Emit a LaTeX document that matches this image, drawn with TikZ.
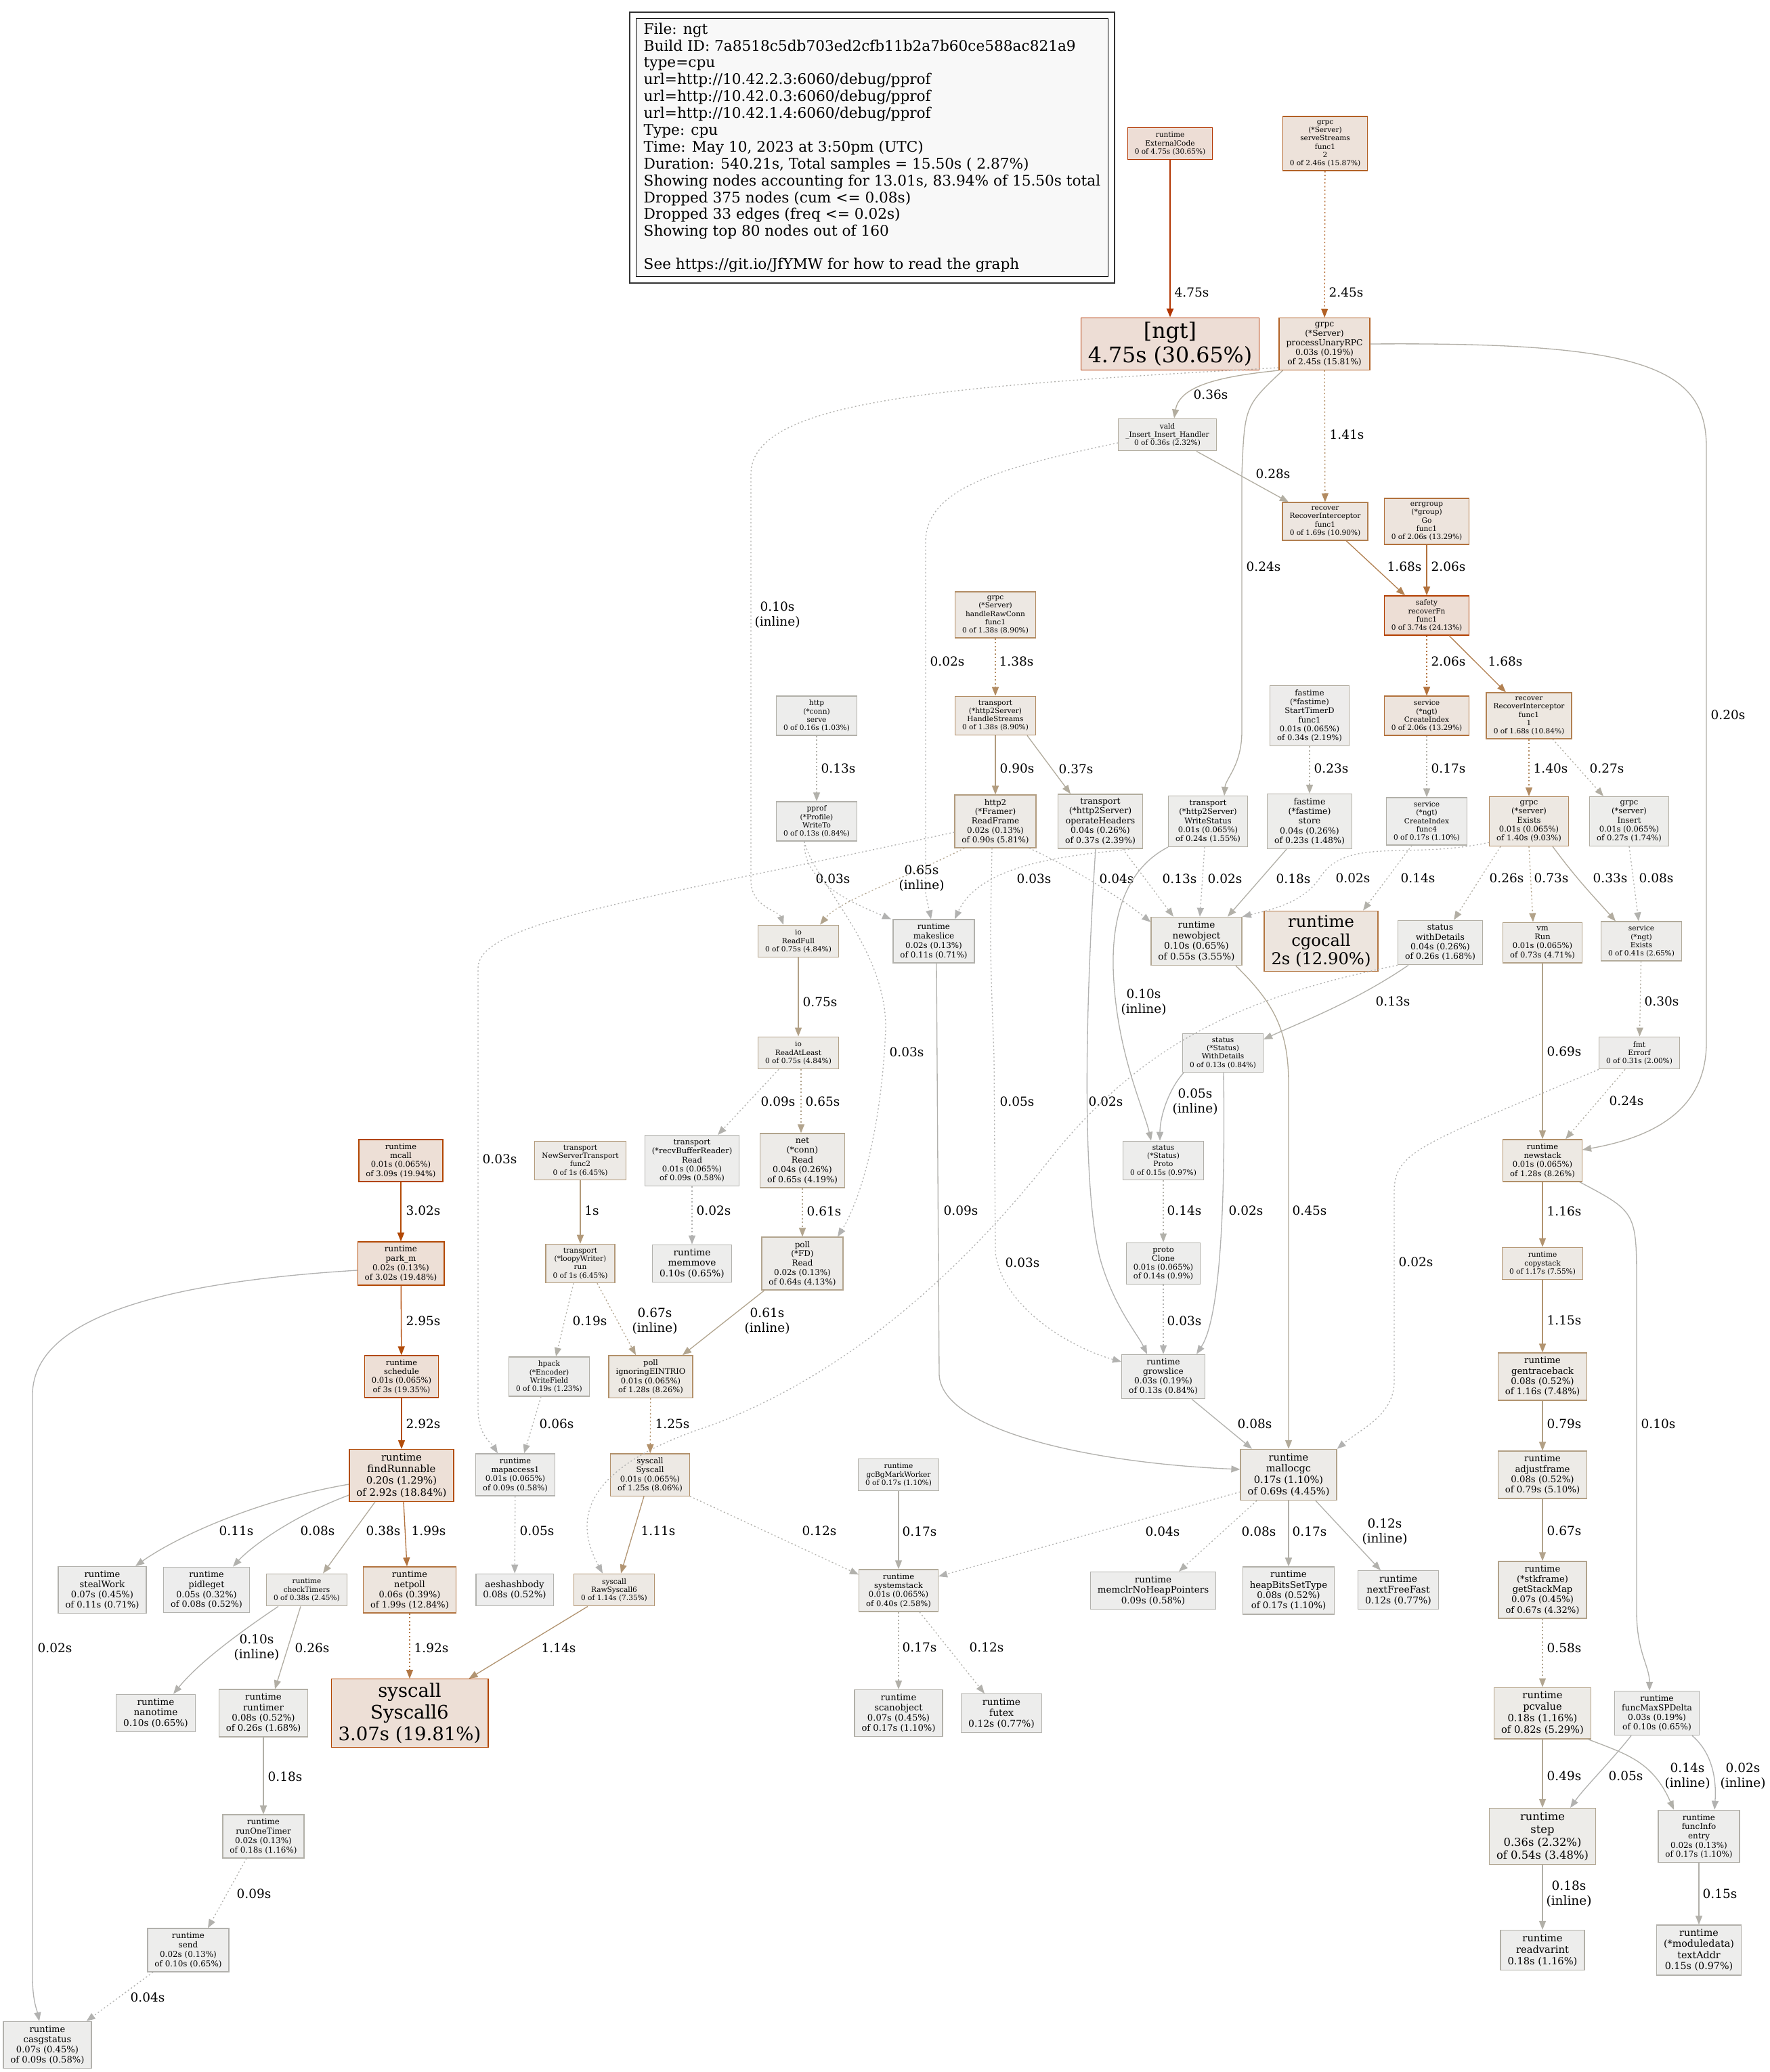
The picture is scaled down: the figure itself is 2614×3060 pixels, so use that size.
\documentclass[tikz,border=0pt]{standalone}
\usepackage{fontspec}
\setmainfont{DejaVu Serif}
\usepackage{tikz}
\usetikzlibrary{arrows.meta,fit}
\definecolor{legendfill}{HTML}{F8F8F8}

% pprof palette: share of the total -> line / fill colour
\newcommand\gvcolor[4]{%
  \pgfmathsetmacro\gvs{#2<0.2 ? #3*#2/0.2 : #3}%
  \pgfmathsetmacro\gvc{(#2)^0.3}%
  \pgfmathsetmacro\gvg{#4*(1-\gvs*\gvc)}%
  \pgfmathsetmacro\gvb{#4*(1-\gvs)}%
  \definecolor{#1}{rgb}{#4,\gvg,\gvb}}
\newcommand\gvfont[1]{%
  \pgfmathsetmacro\gvsz{1.32*#1}%
  \pgfmathsetmacro\gvbs{1.15*\gvsz}%
  \fontsize{\gvsz pt}{\gvbs pt}\selectfont}

\tikzset{
  heat/.code={\pgfmathsetmacro\gvf{#1/15.5}%
    \gvcolor{boxline}{\gvf}{1}{0.7}\gvcolor{boxfill}{\gvf}{0.1}{0.93}%
    \pgfkeysalso{draw=boxline,fill=boxfill}},
  fn/.style 2 args={rectangle, heat=#1, font=\gvfont{#2}, align=center,
    line width=1.32pt, inner xsep=10.5pt, inner ysep=6pt,
    minimum width=71pt, minimum height=47.5pt},
  ecol/.code={\pgfmathsetmacro\gvf{#1/15.5}\gvcolor{edgeline}{\gvf}{1}{0.7}%
    \pgfkeysalso{draw=edgeline}},
  e/.style={ecol=#1, line width=1.32pt, -{Triangle[length=13pt,width=10pt]}},
  ind/.style={dash pattern=on 2pt off 3.5pt},
  lbl/.style={font=\gvfont{14}, align=center, inner sep=0pt},
}

\begin{document}
\begin{tikzpicture}[x=1pt,y=-1pt]
  \fill[white] (0,0) rectangle (2614,3060);

  % legend
  \node[draw=black, fill=legendfill, line width=1.32pt, font=\gvfont{16.4}, align=left,
    inner xsep=11pt, inner ysep=6pt, anchor=north west] (legend) at (939,27)
    {File: ngt\\Build ID: 7a8518c5db703ed2cfb11b2a7b60ce588ac821a9\\type=cpu\\
     url=http://10.42.2.3:6060/debug/pprof\\url=http://10.42.0.3:6060/debug/pprof\\
     url=http://10.42.1.4:6060/debug/pprof\\Type: cpu\\Time: May 10, 2023 at 3:50pm (UTC)\\
     Duration: 540.21s, Total samples = 15.50s ( 2.87\%)\\
     Showing nodes accounting for 13.01s, 83.94\% of 15.50s total\\
     Dropped 375 nodes (cum <= 0.08s)\\Dropped 33 edges (freq <= 0.02s)\\
     Showing top 80 nodes out of 160\\[24pt]See https://git.io/JfYMW for how to read the graph};
  \node[draw=black!80, line width=2pt, fit=(legend), inner sep=9pt] (legendbox) {};

  % nodes
  \node[fn={4.75}{8}] (ext) at (1728,212) {runtime\\ExternalCode\\0 of 4.75s (30.65\%)};
  \node[fn={2.46}{8}] (serve) at (1957,212) {grpc\\(*Server)\\serveStreams\\func1\\2\\0 of 2.46s (15.87\%)};
  \node[fn={4.75}{24}] (ngt) at (1728,508) {[ngt]\\4.75s (30.65\%)};
  \node[fn={2.45}{9.27}] (pur) at (1956,508) {grpc\\(*Server)\\processUnaryRPC\\0.03s (0.19\%)\\of 2.45s (15.81\%)};
  \node[fn={0.36}{8}] (vald) at (1724,642) {vald\\\_Insert\_Insert\_Handler\\0 of 0.36s (2.32\%)};
  \node[fn={1.69}{8}] (rec1) at (1957,770) {recover\\RecoverInterceptor\\func1\\0 of 1.69s (10.90\%)};
  \node[fn={2.06}{8}] (errg) at (2107,770) {errgroup\\(*group)\\Go\\func1\\0 of 2.06s (13.29\%)};
  \node[fn={3.74}{8}] (safety) at (2107,909) {safety\\recoverFn\\func1\\0 of 3.74s (24.13\%)};
  \node[fn={1.38}{8}] (hrc) at (1470,908) {grpc\\(*Server)\\handleRawConn\\func1\\0 of 1.38s (8.90\%)};
  \node[fn={0.16}{8}] (hserve) at (1206,1057) {http\\(*conn)\\serve\\0 of 0.16s (1.03\%)};
  \node[fn={1.38}{8}] (hstreams) at (1470,1057) {transport\\(*http2Server)\\HandleStreams\\0 of 1.38s (8.90\%)};
  \node[fn={0.34}{8.73}] (stimer) at (1934,1057) {fastime\\(*fastime)\\StartTimerD\\func1\\0.01s (0.065\%)\\of 0.34s (2.19\%)};
  \node[fn={2.06}{8}] (cidx) at (2107,1057) {service\\(*ngt)\\CreateIndex\\0 of 2.06s (13.29\%)};
  \node[fn={1.68}{8}] (rec11) at (2258,1057) {recover\\RecoverInterceptor\\func1\\1\\0 of 1.68s (10.84\%)};
  \node[fn={0.13}{8}] (pprof) at (1206,1213) {pprof\\(*Profile)\\WriteTo\\0 of 0.13s (0.84\%)};
  \node[fn={0.90}{9.04}] (rframe) at (1470,1213) {http2\\(*Framer)\\ReadFrame\\0.02s (0.13\%)\\of 0.90s (5.81\%)};
  \node[fn={0.37}{9.47}] (ophdr) at (1625,1213) {transport\\(*http2Server)\\operateHeaders\\0.04s (0.26\%)\\of 0.37s (2.39\%)};
  \node[fn={0.24}{8.73}] (wstatus) at (1784,1213) {transport\\(*http2Server)\\WriteStatus\\0.01s (0.065\%)\\of 0.24s (1.55\%)};
  \node[fn={0.23}{9.47}] (fstore) at (1934,1213) {fastime\\(*fastime)\\store\\0.04s (0.26\%)\\of 0.23s (1.48\%)};
  \node[fn={0.17}{8}] (cidx4) at (2107,1213) {service\\(*ngt)\\CreateIndex\\func4\\0 of 0.17s (1.10\%)};
  \node[fn={1.40}{8.73}] (gexists) at (2258,1213) {grpc\\(*server)\\Exists\\0.01s (0.065\%)\\of 1.40s (9.03\%)};
  \node[fn={0.27}{8.73}] (ginsert) at (2406,1213) {grpc\\(*server)\\Insert\\0.01s (0.065\%)\\of 0.27s (1.74\%)};
  \node[fn={0.75}{8}] (rfull) at (1179,1390) {io\\ReadFull\\0 of 0.75s (4.84\%)};
  \node[fn={0.11}{9.04}] (mslice) at (1379,1390) {runtime\\makeslice\\0.02s (0.13\%)\\of 0.11s (0.71\%)};
  \node[fn={0.55}{10.32}] (newobj) at (1767,1390) {runtime\\newobject\\0.10s (0.65\%)\\of 0.55s (3.55\%)};
  \node[fn={2}{18.38}] (cgocall) at (1951,1390) {runtime\\cgocall\\2s (12.90\%)};
  \node[fn={0.26}{9.47}] (wdet) at (2127,1392) {status\\withDetails\\0.04s (0.26\%)\\of 0.26s (1.68\%)};
  \node[fn={0.73}{8.73}] (vmrun) at (2278,1392) {vm\\Run\\0.01s (0.065\%)\\of 0.73s (4.71\%)};
  \node[fn={0.41}{8}] (sexists) at (2424,1390) {service\\(*ngt)\\Exists\\0 of 0.41s (2.65\%)};
  \node[fn={0.75}{8}] (rleast) at (1179,1555) {io\\ReadAtLeast\\0 of 0.75s (4.84\%)};
  \node[fn={0.13}{8}] (wdetails) at (1806,1555) {status\\(*Status)\\WithDetails\\0 of 0.13s (0.84\%)};
  \node[fn={0.31}{8}] (errorf) at (2421,1555) {fmt\\Errorf\\0 of 0.31s (2.00\%)};
  \node[fn={3.09}{8.73}] (mcall) at (592,1714) {runtime\\mcall\\0.01s (0.065\%)\\of 3.09s (19.94\%)};
  \node[fn={1}{8}] (nst) at (857,1714) {transport\\NewServerTransport\\func2\\0 of 1s (6.45\%)};
  \node[fn={0.09}{8.73}] (rbr) at (1022,1714) {transport\\(*recvBufferReader)\\Read\\0.01s (0.065\%)\\of 0.09s (0.58\%)};
  \node[fn={0.65}{9.47}] (nread) at (1185,1714) {net\\(*conn)\\Read\\0.04s (0.26\%)\\of 0.65s (4.19\%)};
  \node[fn={0.15}{8}] (sproto) at (1718,1714) {status\\(*Status)\\Proto\\0 of 0.15s (0.97\%)};
  \node[fn={1.28}{8.73}] (newstack) at (2278,1714) {runtime\\newstack\\0.01s (0.065\%)\\of 1.28s (8.26\%)};
  \node[fn={3.02}{9.04}] (parkm) at (592,1866) {runtime\\park\_m\\0.02s (0.13\%)\\of 3.02s (19.48\%)};
  \node[fn={1}{8}] (loopy) at (857,1866) {transport\\(*loopyWriter)\\run\\0 of 1s (6.45\%)};
  \node[fn={0.10}{10.32}] (memmove) at (1022,1866) {runtime\\memmove\\0.10s (0.65\%)};
  \node[fn={0.64}{9.04}] (fdread) at (1185,1866) {poll\\(*FD)\\Read\\0.02s (0.13\%)\\of 0.64s (4.13\%)};
  \node[fn={0.14}{8.73}] (clone) at (1718,1866) {proto\\Clone\\0.01s (0.065\%)\\of 0.14s (0.9\%)};
  \node[fn={1.17}{8}] (copystack) at (2278,1866) {runtime\\copystack\\0 of 1.17s (7.55\%)};
  \node[fn={3}{8.73}] (schedule) at (593,2033) {runtime\\schedule\\0.01s (0.065\%)\\of 3s (19.35\%)};
  \node[fn={0.19}{8}] (hpack) at (811,2033) {hpack\\(*Encoder)\\WriteField\\0 of 0.19s (1.23\%)};
  \node[fn={1.28}{8.73}] (eintr) at (961,2033) {poll\\ignoringEINTRIO\\0.01s (0.065\%)\\of 1.28s (8.26\%)};
  \node[fn={0.13}{9.27}] (growslice) at (1718,2033) {runtime\\growslice\\0.03s (0.19\%)\\of 0.13s (0.84\%)};
  \node[fn={1.16}{10.08}] (gentrace) at (2278,2033) {runtime\\gentraceback\\0.08s (0.52\%)\\of 1.16s (7.48\%)};
  \node[fn={2.92}{11.28}] (findrun) at (593,2179) {runtime\\findRunnable\\0.20s (1.29\%)\\of 2.92s (18.84\%)};
  \node[fn={0.09}{8.73}] (mapacc) at (761,2178) {runtime\\mapaccess1\\0.01s (0.065\%)\\of 0.09s (0.58\%)};
  \node[fn={1.25}{8.73}] (syscall) at (960,2178) {syscall\\Syscall\\0.01s (0.065\%)\\of 1.25s (8.06\%)};
  \node[fn={0.17}{8}] (gcbg) at (1327,2178) {runtime\\gcBgMarkWorker\\0 of 0.17s (1.10\%)};
  \node[fn={0.69}{11.03}] (malloc) at (1903,2178) {runtime\\mallocgc\\0.17s (1.10\%)\\of 0.69s (4.45\%)};
  \node[fn={0.79}{10.08}] (adjust) at (2278,2178) {runtime\\adjustframe\\0.08s (0.52\%)\\of 0.79s (5.10\%)};
  \node[fn={0.11}{9.94}] (steal) at (151,2348) {runtime\\stealWork\\0.07s (0.45\%)\\of 0.11s (0.71\%)};
  \node[fn={0.08}{9.64}] (pidle) at (305,2348) {runtime\\pidleget\\0.05s (0.32\%)\\of 0.08s (0.52\%)};
  \node[fn={0.38}{8}] (chktimers) at (453,2348) {runtime\\checkTimers\\0 of 0.38s (2.45\%)};
  \node[fn={1.99}{9.80}] (netpoll) at (605,2348) {runtime\\netpoll\\0.06s (0.39\%)\\of 1.99s (12.84\%)};
  \node[fn={0.08}{10.08}] (aeshash) at (760,2348) {aeshashbody\\0.08s (0.52\%)};
  \node[fn={1.14}{8}] (rawsys) at (907,2348) {syscall\\RawSyscall6\\0 of 1.14s (7.35\%)};
  \node[fn={0.40}{8.73}] (systack) at (1327,2349) {runtime\\systemstack\\0.01s (0.065\%)\\of 0.40s (2.58\%)};
  \node[fn={0.09}{10.2}] (memclr) at (1703,2349) {runtime\\memclrNoHeapPointers\\0.09s (0.58\%)};
  \node[fn={0.17}{10.08}] (heapbits) at (1903,2349) {runtime\\heapBitsSetType\\0.08s (0.52\%)\\of 0.17s (1.10\%)};
  \node[fn={0.12}{10.54}] (nextfree) at (2065,2348) {runtime\\nextFreeFast\\0.12s (0.77\%)};
  \node[fn={0.67}{9.94}] (stackmap) at (2278,2348) {runtime\\(*stkframe)\\getStackMap\\0.07s (0.45\%)\\of 0.67s (4.32\%)};
  \node[fn={0.10}{10.32}] (nanotime) at (230,2530) {runtime\\nanotime\\0.10s (0.65\%)};
  \node[fn={0.26}{10.08}] (runtimer) at (389,2530) {runtime\\runtimer\\0.08s (0.52\%)\\of 0.26s (1.68\%)};
  \node[fn={3.07}{20.86}] (sys6) at (605,2530) {syscall\\Syscall6\\3.07s (19.81\%)};
  \node[fn={0.17}{9.94}] (scanobj) at (1327,2530) {runtime\\scanobject\\0.07s (0.45\%)\\of 0.17s (1.10\%)};
  \node[fn={0.12}{10.54}] (futex) at (1479,2530) {runtime\\futex\\0.12s (0.77\%)};
  \node[fn={0.82}{11.11}] (pcvalue) at (2278,2530) {runtime\\pcvalue\\0.18s (1.16\%)\\of 0.82s (5.29\%)};
  \node[fn={0.10}{9.27}] (fmaxsp) at (2447,2530) {runtime\\funcMaxSPDelta\\0.03s (0.19\%)\\of 0.10s (0.65\%)};
  \node[fn={0.18}{9.04}] (onetimer) at (389,2712) {runtime\\runOneTimer\\0.02s (0.13\%)\\of 0.18s (1.16\%)};
  \node[fn={0.54}{12.4}] (rstep) at (2278,2712) {runtime\\step\\0.36s (2.32\%)\\of 0.54s (3.48\%)};
  \node[fn={0.17}{9.04}] (finfo) at (2509,2712) {runtime\\funcInfo\\entry\\0.02s (0.13\%)\\of 0.17s (1.10\%)};
  \node[fn={0.10}{9.04}] (send) at (278,2880) {runtime\\send\\0.02s (0.13\%)\\of 0.10s (0.65\%)};
  \node[fn={0.18}{11.11}] (readvar) at (2278,2880) {runtime\\readvarint\\0.18s (1.16\%)};
  \node[fn={0.15}{10.84}] (textaddr) at (2509,2880) {runtime\\(*moduledata)\\textAddr\\0.15s (0.97\%)};
  \node[fn={0.09}{9.94}] (casg) at (70,3020) {runtime\\casgstatus\\0.07s (0.45\%)\\of 0.09s (0.58\%)};

  % edges, top part
  \draw[e=4.75, line width=2.64pt] (ext) -- (ngt) node[lbl, at={(1760,432)}] {4.75s};
  \draw[e=2.45, ind] (serve) -- (pur) node[lbl, at={(1988,432)}] {2.45s};
  \draw[e=0.36] (pur.south west) .. controls (1800,556) and (1742,570) .. ([xshift=10pt]vald.north) node[lbl, at={(1788,583)}] {0.36s};
  \draw[e=1.41, ind] (pur) -- (rec1) node[lbl, at={(1989,642)}] {1.41s};
  \draw[e=0.28] ([xshift=43pt]vald.south) -- ([xshift=-54pt]rec1.north) node[lbl, at={(1880,700)}] {0.28s};
  \draw[e=0.24] ([xshift=6pt]pur.south west) .. controls (1838,600) .. (1834,700) -- (1834,1080) .. controls (1834,1130) and (1810,1150) .. ([xshift=24pt]wstatus.north) node[lbl, at={(1866,837)}] {0.24s};
  \draw[e=0.20] (pur.east) .. controls (2420,505) and (2520,540) .. (2520,660) -- (2520,1540) .. controls (2520,1640) and (2440,1680) .. ([yshift=16pt]newstack.east) node[lbl, at={(2552,1056)}] {0.20s};
  \draw[e=0.10, ind] ([yshift=4pt]pur.south west) .. controls (1400,570) and (1109,590) .. (1109,700) -- (1109,1300) .. controls (1109,1340) and (1150,1345) .. ([xshift=-22pt]rfull.north) node[lbl, at={(1148,908)}] {0.10s\\(inline)};
  \draw[e=0.02, ind] ([yshift=-12pt]vald.west) .. controls (1480,690) and (1367,720) .. (1367,800) -- (1367,1320) -- ([xshift=-4pt]mslice.north) node[lbl, at={(1399,977)}] {0.02s};
  \draw[e=2.06] (errg) -- (safety) node[lbl, at={(2139,837)}] {2.06s};
  \draw[e=1.68] ([xshift=31pt]rec1.south) -- ([xshift=-32pt]safety.north) node[lbl, at={(2074,837)}] {1.68s};
  \draw[e=2.06, ind] (safety) -- (cidx) node[lbl, at={(2139,977)}] {2.06s};
  \draw[e=1.68] ([xshift=33pt]safety.south) -- ([xshift=-34pt]rec11.north) node[lbl, at={(2223,977)}] {1.68s};
  \draw[e=1.38, ind] (hrc) -- (hstreams) node[lbl, at={(1501,977)}] {1.38s};
  \draw[e=0.13, ind] (hserve) -- (pprof) node[lbl, at={(1238,1135)}] {0.13s};
  \draw[e=0.90] (hstreams) -- (rframe) node[lbl, at={(1502,1135)}] {0.90s};
  \draw[e=0.37] ([xshift=47pt]hstreams.south) -- ([xshift=-44pt]ophdr.north) node[lbl, at={(1589,1136)}] {0.37s};
  \draw[e=0.23, ind] (stimer) -- (fstore) node[lbl, at={(1966,1135)}] {0.23s};
  \draw[e=0.17, ind] (cidx) -- (cidx4) node[lbl, at={(2139,1135)}] {0.17s};
  \draw[e=1.40, ind] (rec11) -- (gexists) node[lbl, at={(2290,1135)}] {1.40s};
  \draw[e=0.27, ind] ([xshift=35pt]rec11.south) -- ([xshift=-38pt]ginsert.north) node[lbl, at={(2373,1135)}] {0.27s};

  % edges, middle
  \draw[e=0.26, ind] ([xshift=-42pt]gexists.south) -- ([xshift=20pt]wdet.north) node[lbl, at={(2225,1297)}] {0.26s};
  \draw[e=0.73, ind] (gexists.south) -- ([xshift=-14pt]vmrun.north) node[lbl, at={(2291,1297)}] {0.73s};
  \draw[e=0.33] ([xshift=35pt]gexists.south) .. controls (2330,1300) and (2350,1320) .. ([xshift=-38pt]sexists.north) node[lbl, at={(2378,1297)}] {0.33s};
  \draw[e=0.08, ind] (ginsert.south) -- ([xshift=-4pt]sexists.north) node[lbl, at={(2446,1297)}] {0.08s};
  \draw[e=0.02, ind] ([yshift=6pt]gexists.south west) .. controls (2080,1270) and (1990,1235) .. (1950,1295) .. controls (1925,1335) and (1870,1345) .. (newobj.north east) node[lbl, at={(1998,1297)}] {0.02s};
  \draw[e=0.14, ind] ([xshift=-22pt]cidx4.south) -- ([xshift=62pt]cgocall.north) node[lbl, at={(2094,1297)}] {0.14s};
  \draw[e=0.18] ([xshift=-34pt]fstore.south) -- ([xshift=46pt]newobj.north) node[lbl, at={(1910,1298)}] {0.18s};
  \draw[e=0.02, ind] ([xshift=-5pt]wstatus.south) -- ([xshift=5pt]newobj.north) node[lbl, at={(1809,1298)}] {0.02s};
  \draw[e=0.13, ind] ([xshift=33pt]ophdr.south) -- ([xshift=-34pt]newobj.north) node[lbl, at={(1742,1298)}] {0.13s};
  \draw[e=0.03, ind] ([xshift=48pt]ophdr.south) .. controls (1600,1262) and (1450,1270) .. ([xshift=31pt]mslice.north) node[lbl, at={(1527,1298)}] {0.03s};
  \draw[e=0.02] ([xshift=-7pt]ophdr.south) .. controls (1602,1500) and (1598,1760) .. (1625,1860) .. controls (1645,1930) and (1680,1970) .. ([xshift=-24pt]growslice.north) node[lbl, at={(1633,1627)}] {0.02s};
  \draw[e=0.04, ind] ([xshift=50pt]rframe.south) .. controls (1600,1290) and (1660,1330) .. ([yshift=-8pt]newobj.north west) node[lbl, at={(1649,1298)}] {0.04s};
  \draw[e=0.65, ind] ([xshift=15pt]rframe.south west) .. controls (1330,1300) and (1240,1330) .. ([xshift=32pt]rfull.north) node[lbl, at={(1361,1297)}] {0.65s\\(inline)};
  \draw[e=0.03, ind] ([yshift=-16pt]rframe.west) .. controls (950,1330) and (706,1360) .. (706,1430) -- (706,2080) .. controls (706,2120) and (725,2130) .. ([xshift=-26pt]mapacc.north) node[lbl, at={(738,1712)}] {0.03s};
  \draw[e=0.05, ind] ([xshift=-5pt]rframe.south) .. controls (1462,1400) .. (1468,1560) -- (1470,1850) .. controls (1480,1930) and (1580,1990) .. ([yshift=22pt]growslice.west) node[lbl, at={(1502,1627)}] {0.05s};
  \draw[e=0.03, ind] ([xshift=-18pt]pprof.south) .. controls (1185,1300) and (1250,1330) .. ([xshift=-63pt]mslice.north) node[lbl, at={(1230,1298)}] {0.03s};
  \draw[e=0.03, ind] ([xshift=-18pt]pprof.south) .. controls (1200,1300) and (1310,1400) .. (1308,1520) .. controls (1300,1700) and (1260,1790) .. ([xshift=52pt]fdread.north) node[lbl, at={(1339,1554)}] {0.03s};
  \draw[e=0.09] ([xshift=4pt]mslice.south) -- (1387,2030) .. controls (1390,2110) and (1600,2160) .. ([yshift=8pt]malloc.west) node[lbl, at={(1419,1788)}] {0.09s};
  \draw[e=0.45] ([xshift=58pt]newobj.south) .. controls (1880,1480) and (1903,1520) .. (1903,1600) -- (malloc.north) node[lbl, at={(1934,1788)}] {0.45s};
  \draw[e=0.13] ([xshift=-47pt]wdet.south) .. controls (2000,1480) and (1920,1510) .. ([yshift=20pt]wdetails.east) node[lbl, at={(2057,1479)}] {0.13s};
  \draw[e=0.03, ind] (wdet.south west) .. controls (1850,1470) and (1700,1530) .. (1560,1700) .. controls (1420,1880) and (1250,2030) .. (1050,2105) .. controls (850,2170) and (850,2250) .. ([xshift=-17pt]rawsys.north) node[lbl, at={(1510,1865)}] {0.03s};
  \draw[e=0.10] (wstatus.south west) .. controls (1650,1290) and (1640,1380) .. (1645,1450) .. controls (1652,1560) and (1690,1640) .. ([xshift=-18pt]sproto.north) node[lbl, at={(1689,1480)}] {0.10s\\(inline)};
  \draw[e=0.05] ([xshift=-58pt]wdetails.south) .. controls (1725,1610) and (1713,1650) .. ([xshift=-5pt]sproto.north) node[lbl, at={(1765,1627)}] {0.05s\\(inline)};
  \draw[e=0.02] ([xshift=1pt]wdetails.south) .. controls (1810,1800) and (1800,1950) .. ([xshift=49pt]growslice.north) node[lbl, at={(1840,1788)}] {0.02s};
  \draw[e=0.14, ind] (sproto) -- (clone) node[lbl, at={(1749,1788)}] {0.14s};
  \draw[e=0.03, ind] (clone) -- (growslice) node[lbl, at={(1749,1951)}] {0.03s};
  \draw[e=0.08] ([xshift=42pt]growslice.south) -- ([xshift=-54pt]malloc.north) node[lbl, at={(1853,2103)}] {0.08s};

  % edges, right column
  \draw[e=0.69] (vmrun) -- (newstack) node[lbl, at={(2310,1553)}] {0.69s};
  \draw[e=0.30, ind] (sexists) -- (errorf) node[lbl, at={(2454,1479)}] {0.30s};
  \draw[e=0.24, ind] ([xshift=-21pt]errorf.south) -- ([xshift=34pt]newstack.north) node[lbl, at={(2402,1626)}] {0.24s};
  \draw[e=0.02, ind] (errorf.south west) .. controls (2100,1690) and (2059,1700) .. (2059,1760) -- (2059,2040) .. controls (2059,2090) and (2010,2110) .. (malloc.north east) node[lbl, at={(2091,1864)}] {0.02s};
  \draw[e=1.16] (newstack) -- (copystack) node[lbl, at={(2310,1789)}] {1.16s};
  \draw[e=0.10] ([xshift=55pt]newstack.south) .. controls (2417,1790) .. (2417,1900) -- (2417,2380) .. controls (2417,2440) and (2436,2460) .. ([xshift=-11pt]fmaxsp.north) node[lbl, at={(2449,2103)}] {0.10s};
  \draw[e=1.15] (copystack) -- (gentrace) node[lbl, at={(2310,1950)}] {1.15s};
  \draw[e=0.79] (gentrace) -- (adjust) node[lbl, at={(2310,2103)}] {0.79s};
  \draw[e=0.67] (adjust) -- (stackmap) node[lbl, at={(2310,2261)}] {0.67s};
  \draw[e=0.58, ind] (stackmap) -- (pcvalue) node[lbl, at={(2310,2434)}] {0.58s};
  \draw[e=0.49] (pcvalue) -- (rstep) node[lbl, at={(2310,2623)}] {0.49s};
  \draw[e=0.14] ([xshift=67pt]pcvalue.south) .. controls (2400,2590) and (2440,2600) .. ([xshift=-37pt]finfo.north) node[lbl, at={(2492,2623)}] {0.14s\\(inline)};
  \draw[e=0.05] ([xshift=-38pt]fmaxsp.south) .. controls (2380,2600) and (2340,2640) .. ([xshift=41pt]rstep.north) node[lbl, at={(2401,2623)}] {0.05s};
  \draw[e=0.02] ([xshift=52pt]fmaxsp.south) .. controls (2530,2590) and (2535,2630) .. ([xshift=23pt]finfo.north) node[lbl, at={(2574,2623)}] {0.02s\\(inline)};
  \draw[e=0.18] (rstep) -- (readvar) node[lbl, at={(2317,2797)}] {0.18s\\(inline)};
  \draw[e=0.15] (finfo) -- (textaddr) node[lbl, at={(2540,2797)}] {0.15s};

  % edges, mallocgc and systemstack
  \draw[e=0.04, ind] ([yshift=13pt]malloc.south west) -- ([yshift=21pt]systack.east) node[lbl, at={(1717,2262)}] {0.04s};
  \draw[e=0.08, ind] ([xshift=-47pt]malloc.south) -- ([xshift=38pt]memclr.north) node[lbl, at={(1859,2262)}] {0.08s};
  \draw[e=0.17] (malloc) -- (heapbits) node[lbl, at={(1934,2262)}] {0.17s};
  \draw[e=0.12] ([xshift=40pt]malloc.south) -- ([xshift=-26pt]nextfree.north) node[lbl, at={(2045,2262)}] {0.12s\\(inline)};
  \draw[e=0.17] (gcbg) -- (systack) node[lbl, at={(1358,2262)}] {0.17s};
  \draw[e=0.12, ind] (syscall.south east) -- ([yshift=-8pt]systack.north west) node[lbl, at={(1210,2261)}] {0.12s};
  \draw[e=0.17, ind] (systack) -- (scanobj) node[lbl, at={(1358,2433)}] {0.17s};
  \draw[e=0.12, ind] ([xshift=31pt]systack.south) -- ([xshift=-25pt]futex.north) node[lbl, at={(1457,2433)}] {0.12s};

  % edges, scheduler and I/O
  \draw[e=3.02] (mcall) -- (parkm) node[lbl, at={(625,1788)}] {3.02s};
  \draw[e=2.95] (parkm) -- (schedule) node[lbl, at={(625,1951)}] {2.95s};
  \draw[e=2.92] (schedule) -- (findrun) node[lbl, at={(625,2103)}] {2.92s};
  \draw[e=0.02] ([yshift=-10pt]parkm.west) .. controls (300,1890) and (48,1930) .. (48,2060) -- (48,2920) .. controls (48,2955) and (55,2970) .. ([xshift=-12pt]casg.north) node[lbl, at={(81,2434)}] {0.02s};
  \draw[e=0.11] ([yshift=-13pt]findrun.west) .. controls (380,2215) and (260,2270) .. ([xshift=49pt]steal.north) node[lbl, at={(349,2261)}] {0.11s};
  \draw[e=0.08] ([yshift=-29pt]findrun.west) .. controls (430,2240) and (370,2285) .. ([xshift=39pt]pidle.north) node[lbl, at={(469,2261)}] {0.08s};
  \draw[e=0.38] ([xshift=-39pt]findrun.south) -- ([xshift=24pt]chktimers.north) node[lbl, at={(566,2261)}] {0.38s};
  \draw[e=1.99] ([xshift=3pt]findrun.south) -- ([xshift=-4pt]netpoll.north) node[lbl, at={(633,2261)}] {1.99s};
  \draw[e=0.10] ([xshift=-42pt]chktimers.south) .. controls (340,2420) and (290,2460) .. ([xshift=26pt]nanotime.north) node[lbl, at={(379,2433)}] {0.10s\\(inline)};
  \draw[e=0.26] ([xshift=-9pt]chktimers.south) -- ([xshift=17pt]runtimer.north) node[lbl, at={(461,2434)}] {0.26s};
  \draw[e=0.18] (runtimer) -- (onetimer) node[lbl, at={(421,2624)}] {0.18s};
  \draw[e=0.09, ind] ([xshift=-25pt]onetimer.south) -- ([xshift=29pt]send.north) node[lbl, at={(375,2797)}] {0.09s};
  \draw[e=0.04, ind] ([xshift=-52pt]send.south) -- ([xshift=-8pt]casg.north east) node[lbl, at={(218,2950)}] {0.04s};
  \draw[e=1.92, ind] (netpoll) -- (sys6) node[lbl, at={(637,2434)}] {1.92s};
  \draw[e=1.14] ([xshift=-39pt]rawsys.south) -- ([xshift=-29pt]sys6.north east) node[lbl, at={(825,2434)}] {1.14s};
  \draw[e=1.11] ([xshift=-9pt]syscall.south) -- ([xshift=10pt]rawsys.north) node[lbl, at={(972,2261)}] {1.11s};
  \draw[e=1.25, ind] (eintr) -- (syscall) node[lbl, at={(993,2103)}] {1.25s};
  \draw[e=1] (nst) -- (loopy) node[lbl, at={(874,1788)}] {1s};
  \draw[e=0.19, ind] ([xshift=-10pt]loopy.south) -- ([xshift=10pt]hpack.north) node[lbl, at={(871,1951)}] {0.19s};
  \draw[e=0.67, ind] ([xshift=25pt]loopy.south) -- ([xshift=-22pt]eintr.north) node[lbl, at={(967,1951)}] {0.67s\\(inline)};
  \draw[e=0.06, ind] ([xshift=-12pt]hpack.south) -- ([xshift=13pt]mapacc.north) node[lbl, at={(822,2103)}] {0.06s};
  \draw[e=0.05, ind] (mapacc) -- (aeshash) node[lbl, at={(793,2261)}] {0.05s};
  \draw[e=0.61] ([xshift=-56pt]fdread.south) -- ([xshift=47pt]eintr.north) node[lbl, at={(1133,1951)}] {0.61s\\(inline)};
  \draw[e=0.61, ind] (nread) -- (fdread) node[lbl, at={(1217,1789)}] {0.61s};
  \draw[e=0.02, ind] (rbr) -- (memmove) node[lbl, at={(1054,1788)}] {0.02s};
  \draw[e=0.09, ind] ([xshift=-29pt]rleast.south) -- ([xshift=38pt]rbr.north) node[lbl, at={(1149,1627)}] {0.09s};
  \draw[e=0.65, ind] ([xshift=4pt]rleast.south) -- ([xshift=-2pt]nread.north) node[lbl, at={(1215,1627)}] {0.65s};
  \draw[e=0.75] (rfull) -- (rleast) node[lbl, at={(1211,1480)}] {0.75s};
\end{tikzpicture}
\end{document}
